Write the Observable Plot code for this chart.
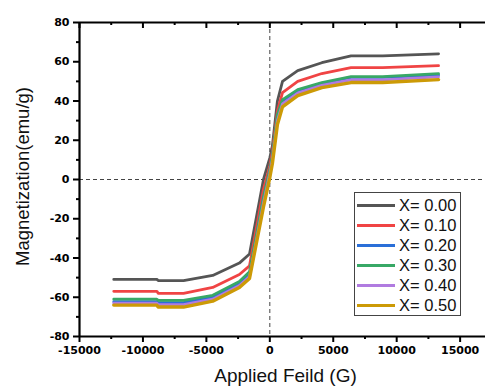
<!DOCTYPE html>
<html>
<head>
<meta charset="utf-8">
<script src="https://cdn.jsdelivr.net/npm/d3@7"></script>
<script src="https://cdn.jsdelivr.net/npm/@observablehq/plot@0.6"></script>
<style>
  html, body { margin: 0; padding: 0; background: #fff; }
  #wrap { position: relative; width: 485px; height: 390px; overflow: hidden; }
  #legend { position: absolute; left: 354px; top: 192px; width: 107px; height: 124px;
            border: 1.5px solid #444; background: #fff; box-sizing: border-box;
            font-family: "Liberation Sans", Arial, sans-serif; font-size: 16.5px; color: #111; }
  .row { position: absolute; left: 0; height: 20px; width: 100%; }
  .sw { position: absolute; left: 2px; width: 38px; top: 9px; height: 3px; }
  .lb { position: absolute; left: 44px; top: 0; line-height: 20px; white-space: nowrap; }
</style>
</head>
<body>
<div id="wrap"></div>
<script>
// Applied field (G)
const fields = [-12300, -8900, -8800, -6800, -4500, -2400, -1600, -500, 0, 200, 600, 1000, 2200, 4100, 6400, 8900, 13300];
// Magnetization (emu/g) per sample
const seriesNames = ["X= 0.00", "X= 0.10", "X= 0.20", "X= 0.30", "X= 0.40", "X= 0.50"];
const m000 = [-50.9, -50.9, -51.5, -51.5, -48.9, -42.6, -38.0, 0, 11, 17, 40, 50.0, 55.5, 59.5, 63.0, 63.0, 64.0];
const m010 = [-57.0, -57.0, -58.0, -58.0, -55.0, -48.4, -44.0, -5, 7, 14, 35, 44.3, 50.0, 54.0, 57.0, 57.0, 58.0];
const m020 = [-62.3, -62.3, -62.8, -62.8, -60.0, -53.0, -48.5, -10, 4, 11, 32, 40.0, 45.3, 49.0, 52.0, 52.0, 53.2];
const m030 = [-61.0, -61.0, -61.6, -61.6, -59.0, -52.0, -47.0, -9, 5, 12, 33, 40.7, 45.8, 49.4, 52.4, 52.4, 53.9];
const m040 = [-63.0, -63.0, -63.8, -63.8, -61.0, -54.0, -49.5, -12, 3, 10, 30, 38.5, 44.0, 48.0, 50.8, 50.8, 52.3];
const m050 = [-64.0, -64.0, -65.0, -65.0, -62.0, -55.0, -50.4, -14, 1, 8, 28, 37.0, 42.7, 46.8, 49.4, 49.4, 50.9];
const seriesValues = [m000, m010, m020, m030, m040, m050];
const colors = ["#555555", "#f04444", "#2a6fd8", "#38a866", "#b07be0", "#cc9a06"];
const widths = [2.8, 2.8, 2.8, 2.8, 2.8, 3.4];

const xMajor = [-15000, -10000, -5000, 0, 5000, 10000, 15000];
const xMinor = [-12500, -7500, -2500, 2500, 7500, 12500];
const yMajor = [-80, -60, -40, -20, 0, 20, 40, 60, 80];
const yMinor = [-70, -50, -30, -10, 10, 30, 50, 70];

const data = [];
seriesValues.forEach((vals, i) => {
  vals.forEach((v, j) => data.push({field: fields[j], m: v, series: seriesNames[i]}));
});

const W = 485, H = 390, mt = 22, mb = 54, ml = 79, mr = 0;
const plotH = H - mt - mb;
const tickFont = "DejaVu Sans, sans-serif";

const chart = Plot.plot({
  width: W, height: H,
  marginTop: mt, marginBottom: mb, marginLeft: ml, marginRight: mr,
  style: {background: "#fff", color: "#000", fontFamily: tickFont},
  x: {domain: [-15000, 17000]},
  y: {domain: [-80, 80]},
  color: {domain: seriesNames, range: colors},
  marks: [
    Plot.ruleY([0], {stroke: "#444", strokeDasharray: "4,3", strokeWidth: 1}),
    Plot.ruleX([0], {stroke: "#444", strokeDasharray: "4,3", strokeWidth: 1}),
    ...seriesNames.map((s, i) => Plot.line(data.filter(d => d.series === s), {
      x: "field", y: "m", stroke: colors[i], strokeWidth: widths[i], strokeLinejoin: "round"
    })),
    Plot.axisX({ticks: xMajor, tickSize: 6, tickPadding: 4, strokeWidth: 2, tickFormat: d => String(d), fontSize: 11, fontWeight: "bold", label: null}),
    Plot.axisX({ticks: xMinor, tickSize: 3, strokeWidth: 2, tickFormat: null, text: null, label: null}),
    Plot.tickX(xMajor, {x: d => d, insetBottom: plotH - 6, strokeWidth: 2, stroke: "#000"}),
    Plot.tickX(xMinor, {x: d => d, insetBottom: plotH - 3, strokeWidth: 2, stroke: "#000"}),
    Plot.axisY({ticks: yMajor, tickSize: 6, tickPadding: 4, strokeWidth: 2, tickFormat: d => String(d), fontSize: 11, fontWeight: "bold", label: null}),
    Plot.axisY({ticks: yMinor, tickSize: 3, strokeWidth: 2, text: null, label: null}),
    Plot.ruleY([80], {stroke: "#000", strokeWidth: 2.2}),
    Plot.ruleY([-80], {stroke: "#000", strokeWidth: 2.2}),
    Plot.ruleX([-15000], {stroke: "#000", strokeWidth: 2.2}),
    Plot.text(["Magnetization(emu/g)"], {frameAnchor: "left", textAnchor: "middle", lineAnchor: "middle", dx: -56, dy: -3, rotate: -90, fontSize: 18.5, fontFamily: "Liberation Sans, Arial, sans-serif", fill: "#111"}),
    Plot.text(["Applied Feild (G)"], {frameAnchor: "bottom", dx: 3, dy: 45, fontSize: 19, fontFamily: "Liberation Sans, Arial, sans-serif", fill: "#111"})
  ]
});

const wrap = document.getElementById("wrap");
wrap.appendChild(chart);

const legend = document.createElement("div");
legend.id = "legend";
seriesNames.forEach((s, i) => {
  const row = document.createElement("div");
  row.className = "row";
  row.style.top = (2 + i * 20) + "px";
  const sw = document.createElement("div");
  sw.className = "sw";
  sw.style.background = colors[i];
  sw.style.height = widths[i] + "px";
  const lb = document.createElement("div");
  lb.className = "lb";
  lb.textContent = s;
  row.appendChild(sw); row.appendChild(lb);
  legend.appendChild(row);
});
wrap.appendChild(legend);
</script>
</body>
</html>
